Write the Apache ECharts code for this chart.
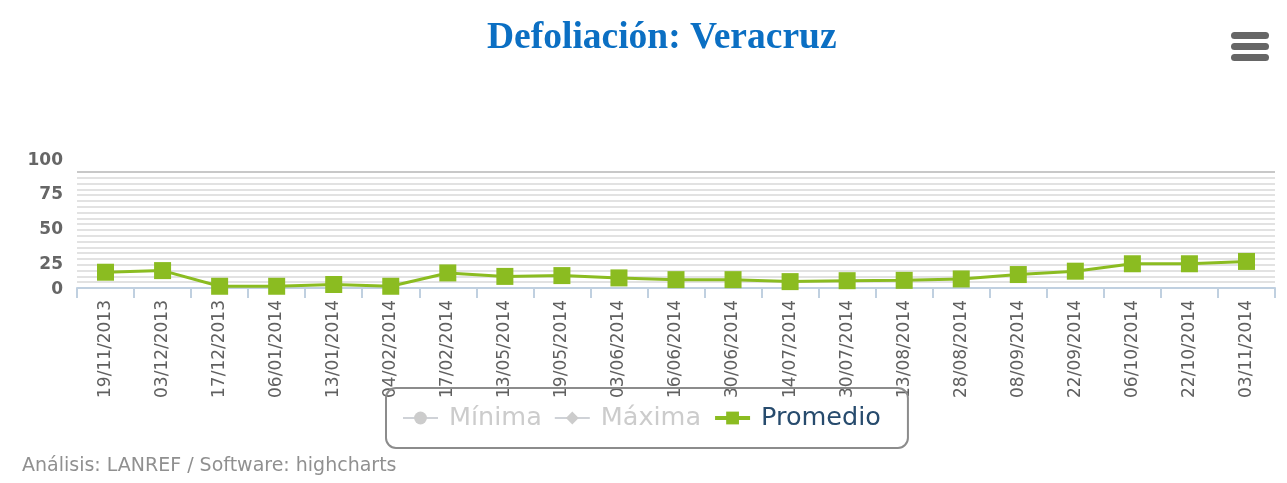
<!DOCTYPE html>
<html>
<head>
<meta charset="utf-8">
<script src="https://cdn.jsdelivr.net/npm/echarts@6/dist/echarts.min.js"></script>
<style>html,body{margin:0;padding:0;background:#fff}#c{width:1287px;height:483px}</style>
</head>
<body>
<div id="c"></div>
<script>
const categories = ['19/11/2013','03/12/2013','17/12/2013','06/01/2014','13/01/2014','04/02/2014','17/02/2014','13/05/2014','19/05/2014','03/06/2014','16/06/2014','30/06/2014','14/07/2014','30/07/2014','13/08/2014','28/08/2014','08/09/2014','22/09/2014','06/10/2014','22/10/2014','03/11/2014'];
const promedio = [13.6, 15, 1.5, 1.5, 3, 1.5, 13, 10, 10.7, 8.7, 7.2, 7.2, 5.5, 6.3, 6.6, 7.8, 11.6, 14.5, 20.9, 20.9, 22.9];
const minima = [];
const maxima = [];
const yTicks = [0, 25, 50, 75, 100];

const chart = echarts.init(document.getElementById('c'));
const green = '#8bbc21';
const gridColors = [];
for (let i = 0; i < 20; i++) gridColors.push('#e2e2e2');
gridColors.push('#c8c8c8');
const yStyle = {fontFamily: 'DejaVu Sans', fontWeight: 'bold', fontSize: 17, color: '#666'};
chart.setOption({
  animation: false,
  title: {
    text: 'Defoliación: Veracruz',
    left: 482, top: 14,
    textStyle: {fontFamily: 'Liberation Serif', fontWeight: 'bold', fontSize: 37.5, color: '#0b6fc3'}
  },
  grid: {left: 77, right: 12, top: 172, bottom: 195, containLabel: false},
  legend: {
    left: 386, top: 388, width: 500, height: 30,
    padding: [17, 27, 17, 16],
    borderColor: '#8c8c8c', borderWidth: 2, borderRadius: 10,
    backgroundColor: 'transparent',
    itemWidth: 35, itemHeight: 16, itemGap: 12,
    inactiveColor: '#cccccc',
    lineStyle: {width: 4},
    textStyle: {fontFamily: 'DejaVu Sans', fontSize: 25.5, color: '#274b6d', padding: [0, 0, 0, 6]},
    selected: {'Mínima': false, 'Máxima': false, 'Promedio': true},
    data: ['Mínima', 'Máxima', 'Promedio']
  },
  xAxis: {
    type: 'category', data: categories, boundaryGap: true,
    axisLine: {lineStyle: {color: '#c0d0e0', width: 2}},
    axisTick: {show: true, length: 10, interval: 0, lineStyle: {color: '#c0d0e0', width: 2}},
    axisLabel: {rotate: 90, interval: 0, margin: 12, fontFamily: 'DejaVu Sans', fontSize: 17, color: '#606060'}
  },
  yAxis: {
    type: 'value', min: 0, max: 100, interval: 5,
    axisLine: {show: false}, axisTick: {show: false},
    axisLabel: {
      margin: 14,
      formatter: v => {
        const m = {100: 'a', 75: 'b', 50: 'c', 25: 'd', 0: 'e'};
        return yTicks.includes(v) ? '{' + m[v] + '|' + v + '}' : '';
      },
      rich: {
        a: Object.assign({padding: [0, 0, 22, 0]}, yStyle),
        b: Object.assign({padding: [0, 0, 12, 0]}, yStyle),
        c: Object.assign({}, yStyle),
        d: Object.assign({padding: [12, 0, 0, 0]}, yStyle),
        e: Object.assign({padding: [4, 0, 0, 0]}, yStyle)
      }
    },
    splitLine: {lineStyle: {color: gridColors, width: 2}}
  },
  graphic: [
    {type: 'rect', shape: {x: 1231, y: 32, width: 38, height: 7, r: 3.5}, style: {fill: '#666'}},
    {type: 'rect', shape: {x: 1231, y: 43, width: 38, height: 7, r: 3.5}, style: {fill: '#666'}},
    {type: 'rect', shape: {x: 1231, y: 54, width: 38, height: 7, r: 3.5}, style: {fill: '#666'}},
    {type: 'text', left: 22, top: 457, style: {text: 'Análisis: LANREF / Software: highcharts', font: '19px "DejaVu Sans"', fill: '#909090'}}
  ],
  series: [
    {name: 'Mínima', type: 'line', data: minima, symbol: 'circle', symbolSize: 14, itemStyle: {color: '#2f7ed8'}},
    {name: 'Máxima', type: 'line', data: maxima, symbol: 'diamond', symbolSize: 14, itemStyle: {color: '#0d233a'}},
    {name: 'Promedio', type: 'line', data: promedio, symbol: 'rect', symbolSize: 17,
     lineStyle: {color: green, width: 3}, itemStyle: {color: green}}
  ]
});
</script>
</body>
</html>
